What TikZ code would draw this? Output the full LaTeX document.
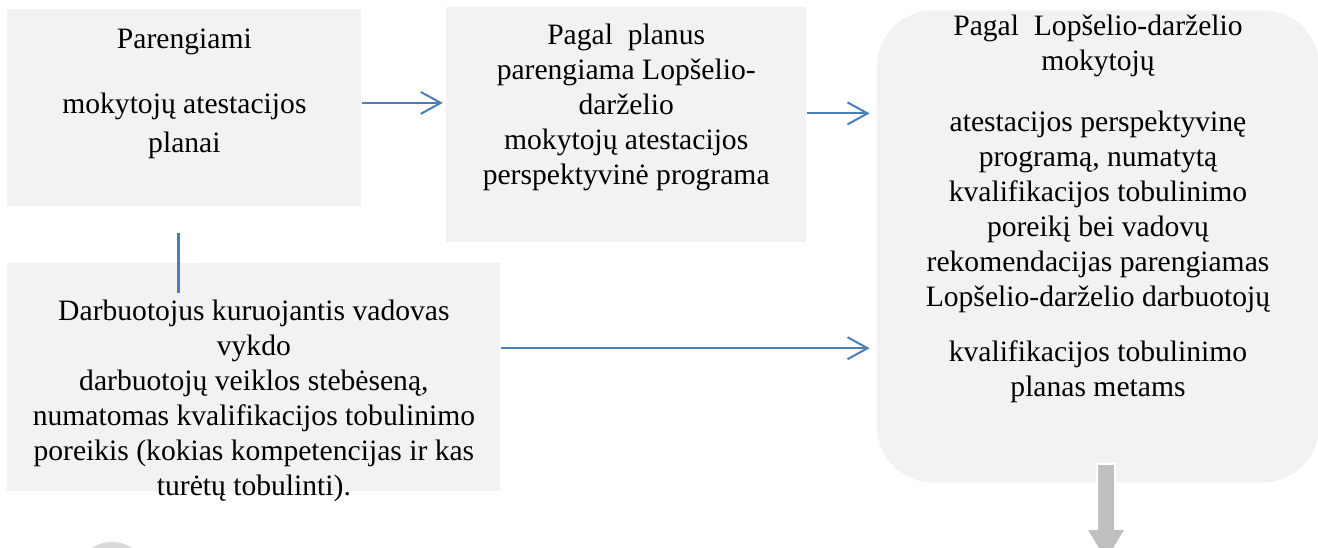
\documentclass[tikz,border=0pt]{standalone}
\usepackage{fontspec}
\setmainfont{Liberation Serif}
\usetikzlibrary{arrows.meta, positioning}
\definecolor{boxgray}{HTML}{F2F2F2}
\definecolor{linkblue}{HTML}{4A7EBB}
\definecolor{arrowgray}{HTML}{BFBFBF}
\tikzset{
    block/.style={rectangle, fill=boxgray, inner sep=0pt, anchor=north west},
    blocktext/.style={inner sep=0pt, align=center, font=\fontsize{14.8}{17.5}\selectfont},
    flow/.style={draw=linkblue, line width=1pt, -{Straight Barb[length=10pt, width=11pt]}},
    link/.style={draw=linkblue, line width=1.1pt}
}

\begin{document}
\begin{tikzpicture}
            \useasboundingbox (0,0) rectangle (659pt,-273.5pt);

            \node[block, minimum width=177pt, minimum height=98.5pt] (plans) at (3.5pt,-4.5pt) {};
            \node[block, minimum width=180pt, minimum height=117.5pt, right=42pt of plans.north east, anchor=north west, yshift=1pt] (program) {};
            \node[block, rounded corners=28pt, minimum width=221pt, minimum height=236pt, right=35pt of program.north east, anchor=north west, yshift=-1.5pt] (yearplan) {};
            \node[block, minimum width=246.5pt, minimum height=114pt, below=28pt of plans.south west, anchor=north west] (monitor) {};

            \node[blocktext, below=9.5pt of plans.north] (plansText) {Parengiami\\[15pt] mokytojų atestacijos\\[2pt] planai};
            \node[blocktext, below=8.5pt of program.north] (programText) {Pagal\ \ planus\\ parengiama Lopšelio-\\ darželio\\ mokytojų atestacijos\\ perspektyvinė programa};
            \node[blocktext, below=2pt of yearplan.north] (yearplanText) {Pagal\ \ Lopšelio-darželio\\ mokytojų\\[13pt] atestacijos perspektyvinę\\ programą, numatytą\\ kvalifikacijos tobulinimo\\ poreikį bei vadovų\\ rekomendacijas parengiamas\\ Lopšelio-darželio darbuotojų\\[10pt] kvalifikacijos tobulinimo\\ planas metams};
            \node[blocktext, below=18.5pt of monitor.north] (monitorText) {Darbuotojus kuruojantis vadovas\\ vykdo\\ darbuotojų veiklos stebėseną,\\ numatomas kvalifikacijos tobulinimo\\ poreikis (kokias kompetencijas ir kas\\ turėtų tobulinti).};

            % connectors
            \coordinate (plansOut) at ([yshift=2.5pt]plans.east);
            \coordinate (programOut) at ([yshift=5.75pt]program.east);
            \coordinate (monitorOut) at ([yshift=14.5pt]monitor.east);
            \coordinate (plansDown) at ([xshift=-3pt]plans.south);

            \draw[flow, shorten >=1.5pt] (plansOut) -- (plansOut -| program.west);
            \draw[flow, shorten >=3.5pt] (programOut) -- (programOut -| yearplan.west);
            \draw[flow, shorten >=3.5pt] (monitorOut) -- (monitorOut -| yearplan.west);
            \draw[link, shorten <=13pt, shorten >=-15pt] (plansDown) -- (plansDown |- monitor.north);

            % next step arrow
            \begin{scope}[shift={([xshift=4pt]yearplan.south)}]
                \filldraw[fill=arrowgray, draw=white, line width=1pt] (-4.5pt,9.5pt) -- (4.5pt,9.5pt) -- (4.5pt,-23pt) -- (10pt,-23pt) -- (0pt,-39.5pt) -- (-10pt,-23pt) -- (-4.5pt,-23pt) -- cycle;
            \end{scope}

            \fill[gray!30] (56pt,-289.5pt) circle (18.5pt);
        \end{tikzpicture}
\end{document}
